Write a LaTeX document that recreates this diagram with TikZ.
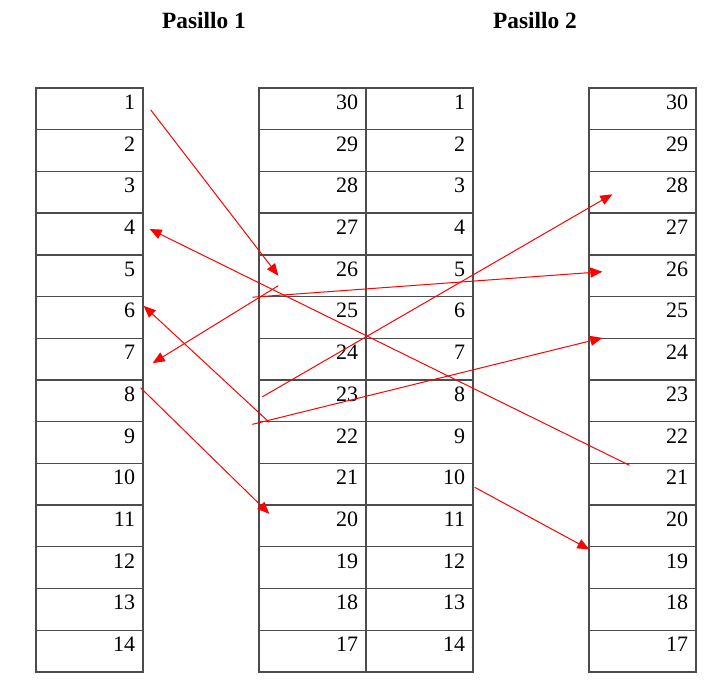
\documentclass[tikz,border=0pt]{standalone}
\usepackage{fontspec}
\setmainfont{Liberation Serif}
\usetikzlibrary{arrows.meta}

\begin{document}
\begin{tikzpicture}[x=0.75pt,y=-0.75pt,
  cell/.style={draw=black!70,line width=1pt,inner xsep=6pt,inner ysep=0pt,
    text width=68.25pt,align=right,text height=16pt,text depth=15.28pt,
    font=\fontsize{16.5}{16.5}\selectfont},
  titlestyle/.style={anchor=base,font=\fontsize{17.5}{20}\selectfont\bfseries},
  move/.style={draw=red,line width=0.75pt,-{Triangle[length=9pt,width=7.5pt]}}]
\fill[white] (0,0) rectangle (711,681);
\node[titlestyle] (t1) at (204,29) {Pasillo 1};
\node[titlestyle] (t2) at (535,29) {Pasillo 2};
% shelves
\foreach \i in {1,...,14}{
  \pgfmathsetmacro\yy{88+41.71*(\i-0.5)}
  \pgfmathtruncatemacro\j{31-\i}
  \node[cell] (a\i) at (89.5,\yy) {\i};
  \node[cell] (b\i) at (312.5,\yy) {\j};
  \node[cell] (c\i) at (419.5,\yy) {\i};
  \node[cell] (d\i) at (642.5,\yy) {\j};
}
% route
\coordinate (s1) at ([shift={(7,1)}]a1.east);
\coordinate (e1) at ([shift={(20,0)}]b5.west);
\coordinate (s2) at ([shift={(41,-19)}]d10.west);
\coordinate (e2) at ([shift={(6,-5)}]a4.east);
\coordinate (s3) at ([shift={(20,10)}]b5.west);
\coordinate (e3) at ([shift={(9,4)}]a7.east);
\coordinate (s4) at ([shift={(-6,0)}]b5.south west);
\coordinate (e4) at ([shift={(14,-4)}]d5.west);
\coordinate (s5) at ([shift={(4,-4)}]b8.west);
\coordinate (e5) at ([shift={(24,2)}]d3.west);
\coordinate (s6) at ([shift={(-6,2)}]b8.south west);
\coordinate (e6) at ([shift={(14,-1)}]d6.south west);
\coordinate (s7) at ([shift={(11,0)}]b8.south west);
\coordinate (e7) at ([shift={(0,10)}]a6.north east);
\coordinate (s8) at ([shift={(-3,-13)}]a8.east);
\coordinate (e8) at ([shift={(11,8)}]b10.south west);
\coordinate (s9) at ([shift={(1,3)}]c10.east);
\coordinate (e9) at ([shift={(1,2)}]d11.south west);
\foreach \k in {1,...,9}
  \draw[move] (s\k) -- (e\k);
\end{tikzpicture}
\end{document}
